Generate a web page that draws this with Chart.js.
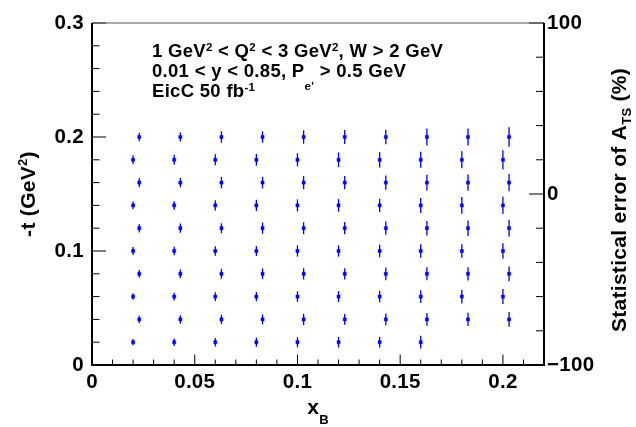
<!DOCTYPE html>
<html>
<head>
<meta charset="utf-8">
<script src="https://cdn.jsdelivr.net/npm/chart.js@4"></script>
<style>
  body { margin: 0; background: #fff; }
  canvas { display: block; }
</style>
</head>
<body>
<canvas id="chart" width="636" height="427"></canvas>
<script>
// x_B bin centres (two staggered sets of columns)
const xOdd  = [0.02, 0.04, 0.06, 0.08, 0.10, 0.12, 0.14, 0.16, 0.18, 0.20];
const xEven = [0.023, 0.043, 0.063, 0.083, 0.103, 0.123, 0.143, 0.163, 0.183, 0.203];

// -t rows
const tRows = [0.02, 0.04, 0.06, 0.08, 0.10, 0.12, 0.14, 0.16, 0.18, 0.20];

// statistical error of A_TS (%), one list per -t row
const err002 = [1.8, 2.2, 2.5, 2.7, 2.9, 3.1, 3.1, 3.7];
const err004 = [2.2, 2.5, 2.7, 2.9, 3.3, 3.1, 3.4, 3.7, 3.9, 4.3];
const err006 = [1.9, 2.3, 2.5, 2.7, 3.1, 3.2, 3.4, 3.7, 4.0, 4.4];
const err008 = [2.2, 2.5, 2.9, 3.1, 3.3, 3.3, 3.7, 3.8, 3.9, 4.3];
const err010 = [2.3, 2.5, 2.8, 2.9, 3.3, 3.3, 3.7, 3.9, 4.0, 4.6];
const err012 = [2.5, 2.7, 2.9, 3.3, 3.5, 3.6, 3.9, 4.2, 4.5, 4.9];
const err014 = [2.3, 2.5, 3.0, 3.3, 3.5, 3.7, 3.9, 4.4, 4.9, 5.0];
const err016 = [2.7, 2.7, 3.4, 3.4, 3.9, 3.9, 4.2, 4.6, 4.7, 5.1];
const err018 = [2.6, 2.9, 3.2, 3.4, 3.8, 4.3, 4.5, 4.7, 5.0, 5.6];
const err020 = [2.5, 2.7, 3.3, 3.3, 3.9, 4.1, 4.3, 4.9, 4.9, 5.7];

const rowErrors = [err002, err004, err006, err008, err010, err012, err014, err016, err018, err020];

const FONT = '"Liberation Sans", Arial, sans-serif';
const BLUE = '#0000ff';

const datasets = tRows.map((t, i) => {
    const xs = i % 2 === 0 ? xOdd : xEven;
    const errs = rowErrors[i];
    return {
        data: errs.map((e, j) => ({ x: xs[j], y: t, err: e })),
        backgroundColor: BLUE,
        borderColor: BLUE,
        borderWidth: 0.5,
        pointStyle: 'rect',
        pointRadius: 2.2,
        showLine: false,
    };
});

// text with raised / lowered pieces
function richWidth(ctx, parts, size) {
    let w = 0;
    parts.forEach(p => {
        const fs = p.sup || p.sub ? size * 0.62 : size;
        ctx.font = 'bold ' + fs + 'px ' + FONT;
        w += ctx.measureText(p.t).width;
    });
    return w;
}
function richText(ctx, x, y, parts, size) {
    parts.forEach(p => {
        let fs = size, dy = 0;
        if (p.sup) { fs = size * 0.62; dy = p.dy !== undefined ? p.dy : -size * 0.35; }
        if (p.sub) { fs = size * 0.62; dy = p.dy !== undefined ? p.dy : size * 0.35; }
        ctx.font = 'bold ' + fs + 'px ' + FONT;
        ctx.fillText(p.t, x, y + dy);
        x += ctx.measureText(p.t).width;
    });
}

const spacing = {
    id: 'spacing',
    beforeDraw(chart) { chart.ctx.letterSpacing = '0.3px'; }
};

const errorBars = {
    id: 'errorBars',
    beforeDatasetsDraw(chart) {
        const ctx = chart.ctx;
        const y2 = chart.scales.y2;
        const unit = Math.abs(y2.getPixelForValue(1) - y2.getPixelForValue(0));
        ctx.save();
        ctx.strokeStyle = BLUE;
        ctx.lineWidth = 1.3;
        chart.data.datasets.forEach((ds, i) => {
            const meta = chart.getDatasetMeta(i);
            meta.data.forEach((pt, j) => {
                const h = ds.data[j].err * unit;
                ctx.beginPath();
                ctx.moveTo(pt.x, pt.y - h);
                ctx.lineTo(pt.x, pt.y + h);
                ctx.stroke();
            });
        });
        ctx.restore();
    }
};

const frame = {
    id: 'frame',
    afterDraw(chart) {
        const { ctx, chartArea: a, scales: { x, y, y2 } } = chart;
        ctx.save();
        ctx.strokeStyle = '#000';
        ctx.lineWidth = 1;
        const seg = (x1, y1, x2, y2_) => {
            ctx.beginPath(); ctx.moveTo(x1, y1); ctx.lineTo(x2, y2_); ctx.stroke();
        };
        x.ticks.forEach(t => {
            const px = x.getPixelForValue(t.value);
            const major = Math.round(t.value * 100) % 5 === 0;
            seg(px, a.bottom, px, a.bottom - (major ? 10.5 : 5.5));
        });
        y.ticks.forEach(t => {
            const py = y.getPixelForValue(t.value);
            const major = Math.round(t.value * 100) % 10 === 0;
            seg(a.left, py, a.left + (major ? 14 : 7.5), py);
        });
        y2.ticks.forEach(t => {
            const py = y2.getPixelForValue(t.value);
            const major = Math.round(t.value) % 100 === 0;
            seg(a.right, py, a.right - (major ? 15 : 8), py);
        });
        // frame
        ctx.strokeStyle = '#555';
        seg(a.left, a.top, a.right, a.top);
        ctx.strokeStyle = '#000';
        ctx.lineWidth = 2;
        seg(a.left, a.top, a.left, a.bottom + 1);
        seg(a.left - 1, a.bottom, a.right + 1, a.bottom);
        seg(a.right, a.top, a.right, a.bottom + 1);

        // annotation
        ctx.fillStyle = '#000';
        ctx.textBaseline = 'alphabetic';
        ctx.textAlign = 'left';
        const s = 18.5;
        richText(ctx, 152, 57, [
            { t: '1 GeV' }, { t: '2', sup: true, dy: -6 }, { t: ' < Q' }, { t: '2', sup: true, dy: -6 },
            { t: ' < 3 GeV' }, { t: '2', sup: true, dy: -6 }, { t: ', W > 2 GeV' }
        ], s);
        richText(ctx, 152, 77, [
            { t: '0.01 < y < 0.85, P' }, { t: 'e\'', sub: true, dy: 13 }, { t: ' > 0.5 GeV' }
        ], s);
        richText(ctx, 152, 97, [
            { t: 'EicC 50 fb' }, { t: '-1', sup: true, dy: -6 }
        ], s);

        // axis titles
        const ts = 21;
        const xParts = [{ t: 'x' }, { t: 'B', sub: true, dy: 10 }];
        richText(ctx, 318 - richWidth(ctx, xParts, ts) / 2, 414, xParts, ts);

        const yParts = [{ t: '-t (GeV' }, { t: '2', sup: true, dy: -8 }, { t: ')' }];
        ctx.save();
        ctx.translate(35, (a.top + a.bottom) / 2);
        ctx.rotate(-Math.PI / 2);
        richText(ctx, -richWidth(ctx, yParts, ts) / 2, 0, yParts, ts);
        ctx.restore();

        const y2Parts = [{ t: 'Statistical error of A' }, { t: 'TS', sub: true, dy: 5 }, { t: ' (%)' }];
        ctx.save();
        ctx.translate(626, (a.top + a.bottom) / 2);
        ctx.rotate(-Math.PI / 2);
        richText(ctx, -richWidth(ctx, y2Parts, ts) / 2 - 6, 0, y2Parts, ts);
        ctx.restore();

        ctx.restore();
    }
};

const tickFont = { family: FONT, size: 20.5, weight: 'bold' };

new Chart(document.getElementById('chart').getContext('2d'), {
    type: 'scatter',
    data: { datasets: datasets },
    options: {
        responsive: false,
        animation: false,
        layout: { padding: { top: 23, left: 0, right: 0, bottom: 0 } },
        plugins: { legend: { display: false }, tooltip: { enabled: false } },
        scales: {
            x: {
                type: 'linear',
                min: 0,
                max: 0.22,
                grid: { display: false, drawTicks: false },
                border: { display: false },
                ticks: {
                    stepSize: 0.01,
                    autoSkip: false,
                    maxRotation: 0,
                    padding: 5,
                    color: '#000',
                    font: tickFont,
                    callback: v => (Math.round(v * 100) % 5 === 0 ? String(+v.toFixed(2)) : ''),
                },
                afterFit: s => { s.height = 62; },
            },
            y: {
                type: 'linear',
                position: 'left',
                min: 0,
                max: 0.3,
                grid: { display: false, drawTicks: false },
                border: { display: false },
                ticks: {
                    stepSize: 0.02,
                    autoSkip: false,
                    padding: 8,
                    color: '#000',
                    font: tickFont,
                    callback: v => (Math.round(v * 100) % 10 === 0 ? String(+v.toFixed(1)) : ''),
                },
                afterFit: s => { s.width = 92; },
            },
            y2: {
                type: 'linear',
                position: 'right',
                min: -100,
                max: 100,
                grid: { display: false, drawTicks: false },
                border: { display: false },
                ticks: {
                    stepSize: 20,
                    autoSkip: false,
                    padding: 3,
                    color: '#000',
                    font: tickFont,
                    callback: v => (Math.round(v) % 100 === 0 ? (v < 0 ? '\u2212' + Math.abs(v) : String(v)) : ''),
                },
                afterFit: s => { s.width = 92; },
            },
        },
    },
    plugins: [spacing, errorBars, frame],
});
</script>
</body>
</html>
